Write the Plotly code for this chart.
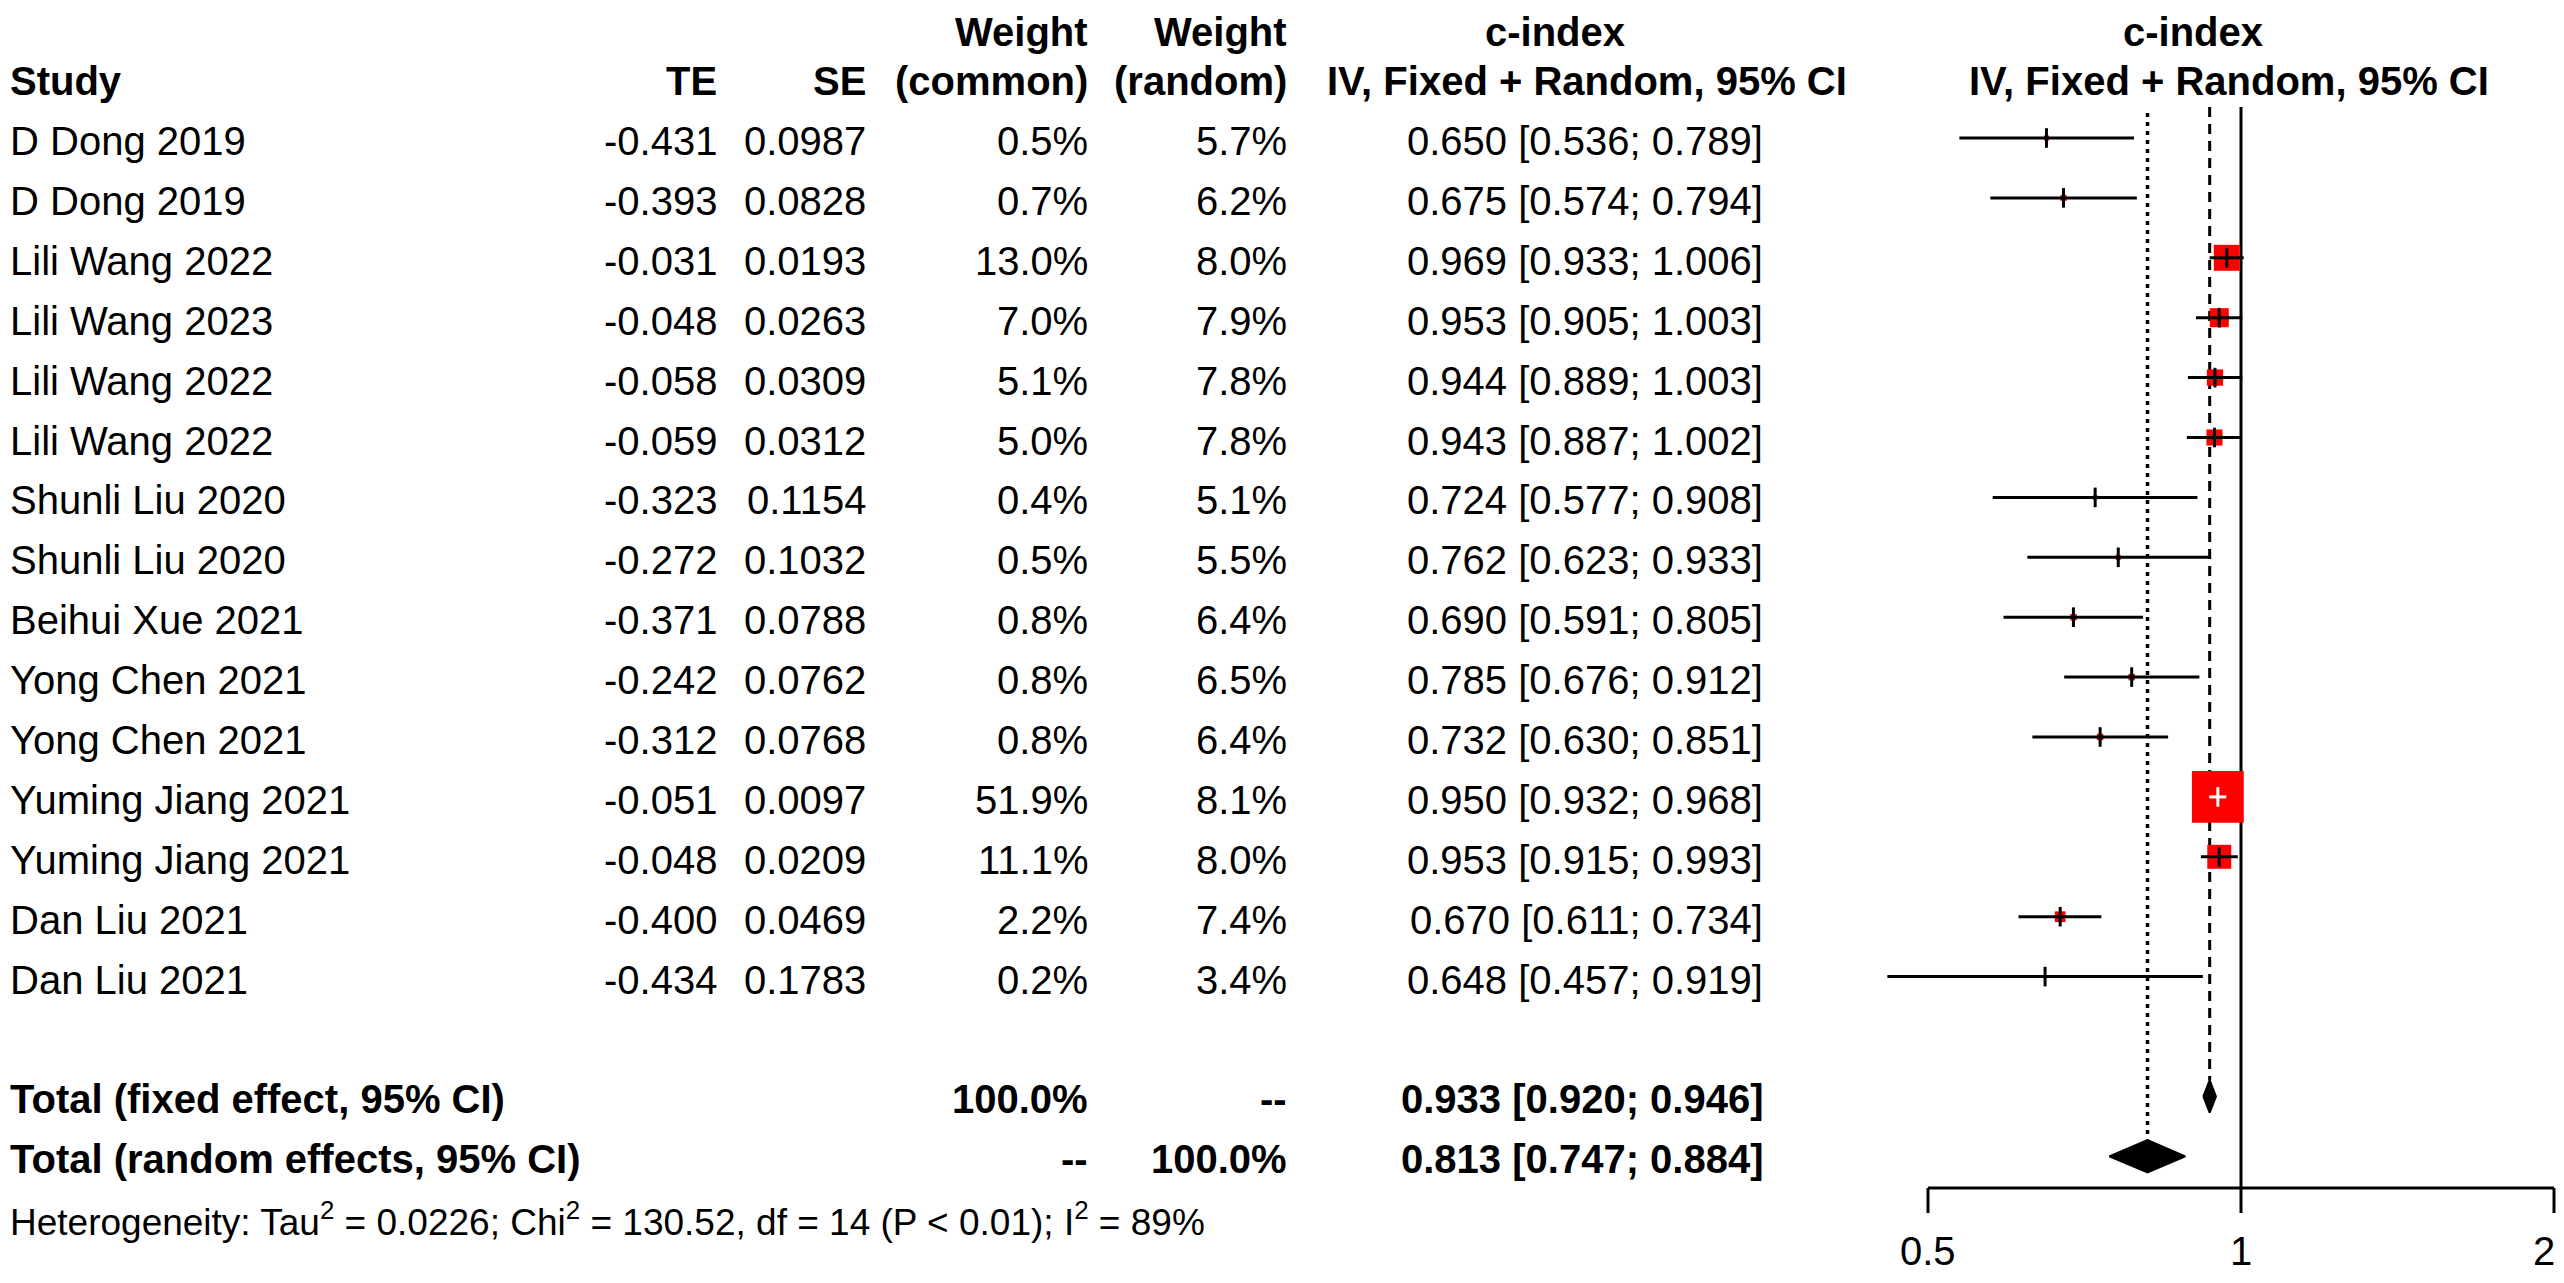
import numpy as np
import plotly.graph_objects as go

# study level data
studies = ["D Dong 2019", "D Dong 2019", "Lili Wang 2022", "Lili Wang 2023", "Lili Wang 2022",
           "Lili Wang 2022", "Shunli Liu 2020", "Shunli Liu 2020", "Beihui Xue 2021",
           "Yong Chen 2021", "Yong Chen 2021", "Yuming Jiang 2021", "Yuming Jiang 2021",
           "Dan Liu 2021", "Dan Liu 2021"]
te = [-0.431, -0.393, -0.031, -0.048, -0.058, -0.059, -0.323, -0.272, -0.371, -0.242,
      -0.312, -0.051, -0.048, -0.400, -0.434]
se = [0.0987, 0.0828, 0.0193, 0.0263, 0.0309, 0.0312, 0.1154, 0.1032, 0.0788, 0.0762,
      0.0768, 0.0097, 0.0209, 0.0469, 0.1783]
w_common = [0.5, 0.7, 13.0, 7.0, 5.1, 5.0, 0.4, 0.5, 0.8, 0.8, 0.8, 51.9, 11.1, 2.2, 0.2]
w_random = [5.7, 6.2, 8.0, 7.9, 7.8, 7.8, 5.1, 5.5, 6.4, 6.5, 6.4, 8.1, 8.0, 7.4, 3.4]
est = [0.650, 0.675, 0.969, 0.953, 0.944, 0.943, 0.724, 0.762, 0.690, 0.785, 0.732,
       0.950, 0.953, 0.670, 0.648]
lower = [0.536, 0.574, 0.933, 0.905, 0.889, 0.887, 0.577, 0.623, 0.591, 0.676, 0.630,
         0.932, 0.915, 0.611, 0.457]
upper = [0.789, 0.794, 1.006, 1.003, 1.003, 1.002, 0.908, 0.933, 0.805, 0.912, 0.851,
         0.968, 0.993, 0.734, 0.919]

# pooled results
fixed = [0.933, 0.920, 0.946]
random_ = [0.813, 0.747, 0.884]
het_text = ("Heterogeneity: Tau<sup>2</sup> = 0.0226; Chi<sup>2</sup> = 130.52, "
            "df = 14 (P < 0.01); I<sup>2</sup> = 89%")

tick_vals = [0.5, 1, 2]
tick_labels = ["0.5", "1", "2"]

# page geometry (body margin of 8px is left around the figure)
OFF = 8
W, H = 2564 - 2 * OFF, 1283 - 2 * OFF
ROW0, ROWH = 138, 59.9          # screen y of first study row, row height
X1, PXL2 = 2241, 313            # screen x of c-index = 1, pixels per log2 unit
FONT = "Liberation Sans, Arial, sans-serif"
FS = 40

def px(sx):
    return (sx - OFF) / W

n = len(studies)
rows = list(range(n))
r_fixed, r_random, r_het = n + 1, n + 2, n + 3
r_axis = (1188 - ROW0) / ROWH
r_tick = (1213 - ROW0) / ROWH
r_lab = (1251 - ROW0) / ROWH
r_top = (107 - ROW0) / ROWH

y_rng = [(H + OFF - ROW0) / ROWH, (OFF - ROW0) / ROWH]
x_rng = [np.log10(2 ** ((OFF - X1) / PXL2)), np.log10(2 ** ((W + OFF - X1) / PXL2))]

fig = go.Figure()

# reference lines
fig.add_trace(go.Scatter(x=[1, 1], y=[r_top, r_axis], mode="lines",
                         line=dict(color="black", width=3), hoverinfo="skip"))
fig.add_trace(go.Scatter(x=[random_[0]] * 2, y=[r_top + 0.1, r_random - 0.28], mode="lines",
                         line=dict(color="black", width=3.5, dash="4px,5px"), hoverinfo="skip"))
fig.add_trace(go.Scatter(x=[fixed[0]] * 2, y=[r_top, r_fixed - 0.27], mode="lines",
                         line=dict(color="black", width=3, dash="10px,7px"), hoverinfo="skip"))

# squares (area ~ common weight)
sizes = [7.2 * np.sqrt(w) for w in w_common]
fig.add_trace(go.Scatter(x=est, y=rows, mode="markers",
                         marker=dict(symbol="square", size=sizes, color="rgb(255,0,0)",
                                     opacity=1, line=dict(width=0)),
                         hoverinfo="skip"))

# confidence intervals, white when inside the square
blk_x, blk_y, wht_x, wht_y, blk_e, wht_e = [], [], [], [], [], []
for i in rows:
    half = sizes[i] / 2 / PXL2
    inside = (np.log2(lower[i]) > np.log2(est[i]) - half and
              np.log2(upper[i]) < np.log2(est[i]) + half)
    if inside:
        wht_x += [lower[i], upper[i], None]
        wht_y += [i, i, None]
        wht_e.append(i)
    else:
        blk_x += [lower[i], upper[i], None]
        blk_y += [i, i, None]
        blk_e.append(i)

fig.add_trace(go.Scatter(x=blk_x, y=blk_y, mode="lines",
                         line=dict(color="black", width=3), hoverinfo="skip"))
fig.add_trace(go.Scatter(x=wht_x, y=wht_y, mode="lines",
                         line=dict(color="white", width=3), hoverinfo="skip"))
fig.add_trace(go.Scatter(x=[est[i] for i in blk_e], y=blk_e, mode="markers",
                         marker=dict(symbol="line-ns", size=14,
                                     line=dict(color="black", width=3)),
                         hoverinfo="skip"))
fig.add_trace(go.Scatter(x=[est[i] for i in wht_e], y=wht_e, mode="markers",
                         marker=dict(symbol="line-ns", size=14,
                                     line=dict(color="white", width=3)),
                         hoverinfo="skip"))

# pooled diamonds
for (e, lo, hi), r in [(fixed, r_fixed), (random_, r_random)]:
    fig.add_trace(go.Scatter(x=[lo, e, hi, e, lo], y=[r, r - 0.27, r, r + 0.27, r],
                             mode="lines", fill="toself", fillcolor="black",
                             line=dict(color="black", width=2), hoverinfo="skip"))

# x axis drawn by hand (0.5 to 2)
fig.add_trace(go.Scatter(x=[tick_vals[0], tick_vals[-1]], y=[r_axis, r_axis], mode="lines",
                         line=dict(color="black", width=3), hoverinfo="skip", cliponaxis=False))
tx, ty = [], []
for v in tick_vals:
    tx += [v, v, None]
    ty += [r_axis, r_tick, None]
fig.add_trace(go.Scatter(x=tx, y=ty, mode="lines", line=dict(color="black", width=3),
                         hoverinfo="skip", cliponaxis=False))

# text columns
ann = []

def txt(s, sx, r, anchor="right", size=FS, dy=-3):
    ann.append(dict(text=s, x=px(sx), y=r, xref="paper", yref="y", xanchor=anchor,
                    yanchor="middle", showarrow=False, yshift=dy,
                    font=dict(family=FONT, size=size, color="black")))

def head(s, sx, anchor="right"):
    # top header line, kept inside the page
    ann.append(dict(text=s, x=px(sx), y=1, xref="paper", yref="paper", xanchor=anchor,
                    yanchor="top", showarrow=False,
                    font=dict(family=FONT, size=FS, color="black")))

for v, lab in zip(tick_vals, tick_labels):
    shift = -10 if v == tick_vals[-1] else 0
    ann.append(dict(text=lab, x=np.log10(v), y=r_lab, xref="x", yref="y",
                    xanchor="center", yanchor="middle", showarrow=False, xshift=shift,
                    font=dict(family=FONT, size=FS, color="black")))

col_te, col_se, col_wc, col_wr, col_ci = 719, 868, 1090, 1289, 1765

head("<b>Weight</b>", col_wc)
head("<b>Weight</b>", col_wr)
head("<b>c-index</b>", 1555, "center")
head("<b>c-index</b>", 2193, "center")
txt("<b>Study</b>", 8, -1, "left")
txt("<b>TE</b>", col_te, -1)
txt("<b>SE</b>", col_se, -1)
txt("<b>(common)</b>", col_wc, -1)
txt("<b>(random)</b>", col_wr, -1)
txt("<b>IV, Fixed + Random, 95% CI</b>", 1325, -1, "left")
txt("<b>IV, Fixed + Random, 95% CI</b>", 1967, -1, "left")

for i in rows:
    txt(studies[i], 8, i, "left")
    txt("%.3f" % te[i], col_te, i)
    txt("%.4f" % se[i], col_se, i)
    txt("%.1f%%" % w_common[i], col_wc, i)
    txt("%.1f%%" % w_random[i], col_wr, i)
    txt("%.3f [%.3f; %.3f]" % (est[i], lower[i], upper[i]), col_ci, i)

txt("<b>Total (fixed effect, 95% CI)</b>", 8, r_fixed, "left")
txt("<b>100.0%</b>", col_wc, r_fixed)
txt("<b>--</b>", col_wr, r_fixed)
txt("<b>%.3f [%.3f; %.3f]</b>" % tuple(fixed), col_ci, r_fixed)
txt("<b>Total (random effects, 95% CI)</b>", 8, r_random, "left")
txt("<b>--</b>", col_wc, r_random)
txt("<b>100.0%</b>", col_wr, r_random)
txt("<b>%.3f [%.3f; %.3f]</b>" % tuple(random_), col_ci, r_random)
txt(het_text, 8, r_het, "left", size=37)

fig.update_layout(
    width=W, height=H,
    margin=dict(l=0, r=0, t=0, b=0),
    paper_bgcolor="white", plot_bgcolor="white",
    showlegend=False,
    annotations=ann,
    xaxis=dict(type="log", range=x_rng, visible=False, fixedrange=True),
    yaxis=dict(range=y_rng, visible=False, fixedrange=True),
)

fig.write_html("out.html")
